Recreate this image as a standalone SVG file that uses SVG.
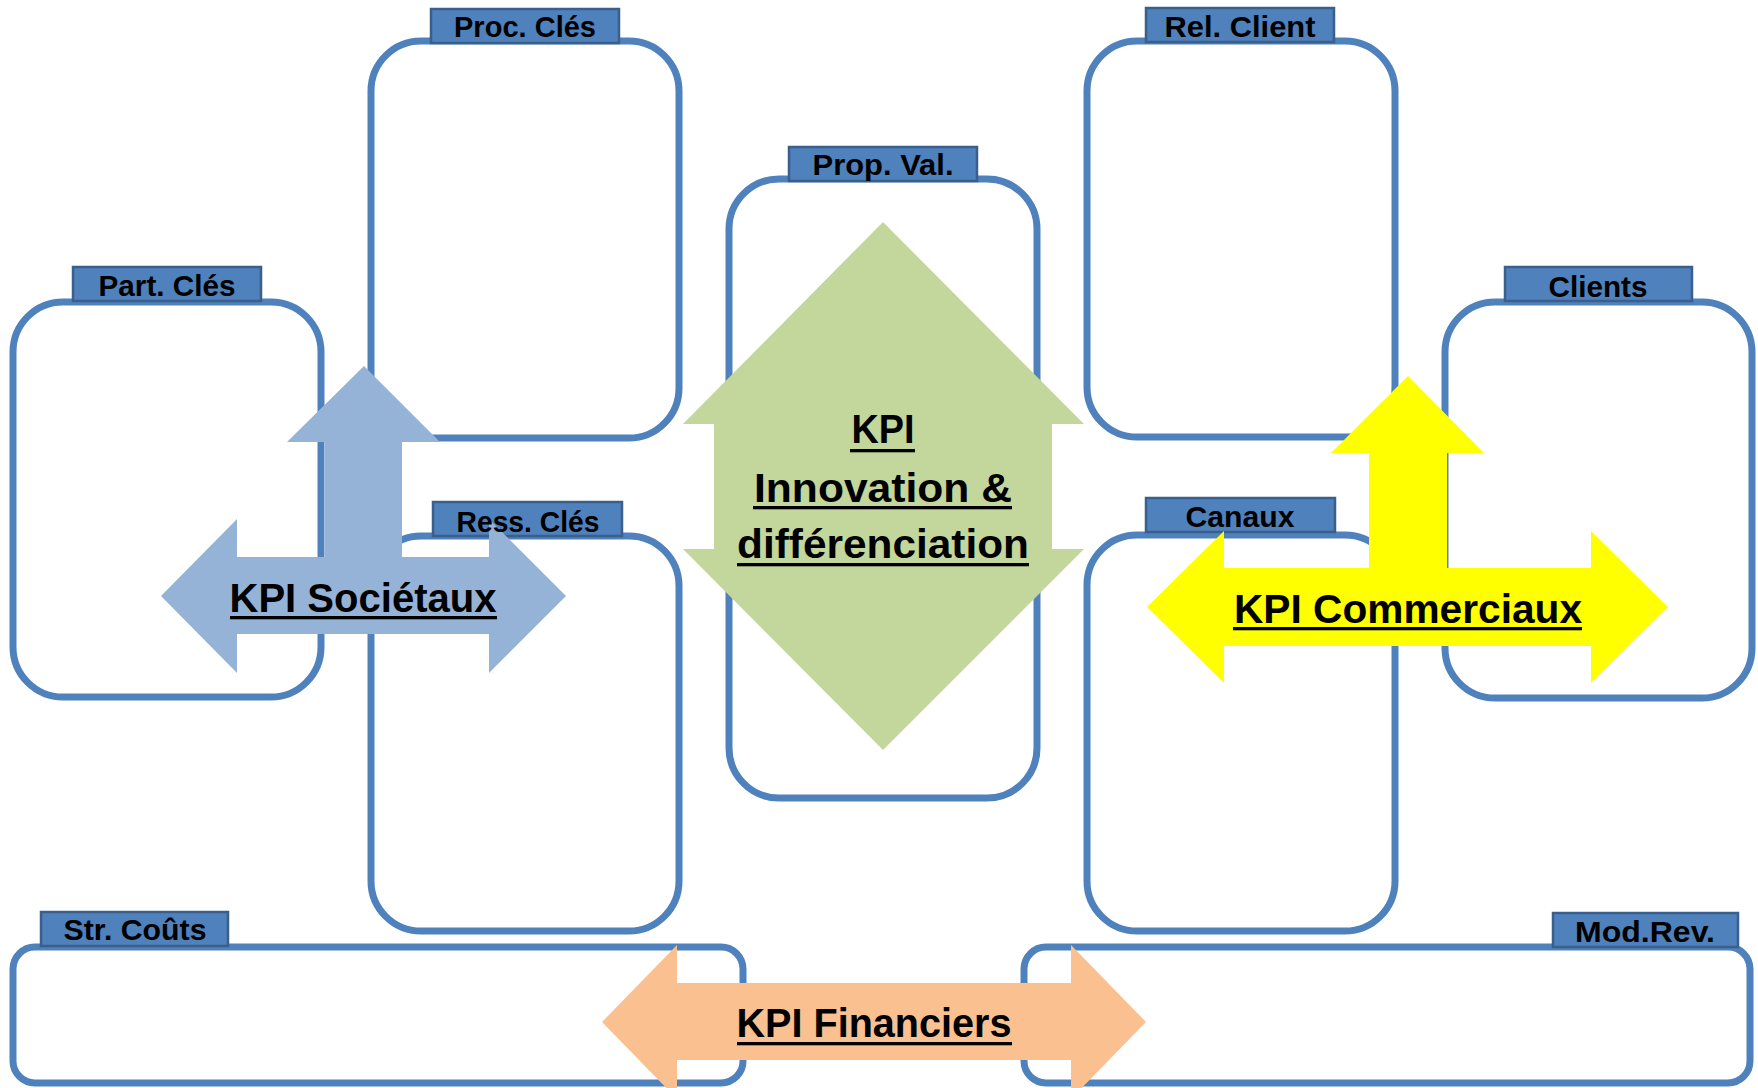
<svg xmlns="http://www.w3.org/2000/svg" width="1758" height="1088" viewBox="0 0 1758 1088">
  <style>
    .box { fill: #FFFFFF; stroke: #4F81BD; stroke-width: 7; }
    .tab { fill: #4F81BD; stroke: #3A5F8B; stroke-width: 2.5; }
    .tabtxt { font-family: "Liberation Sans", Arial, sans-serif; font-weight: bold; font-size: 30px; fill: #000000; text-anchor: middle; }
    .kpi { font-family: "Liberation Sans", Arial, sans-serif; font-weight: bold; font-size: 41px; fill: #000000; text-anchor: middle; }
    .ul { fill: #000000; }
    .a-soc { fill: #95B3D7; }
    .a-inn { fill: #C3D69B; }
    .a-com { fill: #FFFF00; }
    .a-fin { fill: #FAC090; }
  </style>

  <rect width="1758" height="1088" fill="#FFFFFF"/>

  <!-- canvas blocks: frame + title tab -->
  <g id="part-cles">
    <rect class="box" x="13" y="302" width="308" height="395" rx="50"/>
    <rect class="tab" x="73" y="267" width="188" height="34"/>
  </g>
  <g id="proc-cles">
    <rect class="box" x="371" y="41" width="308" height="397" rx="50"/>
    <rect class="tab" x="431" y="9" width="188" height="34"/>
  </g>
  <g id="ress-cles">
    <rect class="box" x="371" y="536" width="308" height="395" rx="50"/>
    <rect class="tab" x="433" y="502" width="189" height="34"/>
  </g>
  <g id="prop-val">
    <rect class="box" x="729" y="179" width="308" height="619" rx="50"/>
    <rect class="tab" x="789" y="147" width="188" height="34"/>
  </g>
  <g id="rel-client">
    <rect class="box" x="1087" y="41" width="308" height="396" rx="50"/>
    <rect class="tab" x="1146" y="8" width="188" height="34"/>
  </g>
  <g id="canaux">
    <rect class="box" x="1087" y="535" width="308" height="396" rx="50"/>
    <rect class="tab" x="1146" y="498" width="189" height="34"/>
  </g>
  <g id="clients">
    <rect class="box" x="1445" y="302" width="307" height="396" rx="50"/>
    <rect class="tab" x="1505" y="267" width="187" height="34"/>
  </g>
  <g id="str-couts">
    <rect class="box" x="13" y="947" width="730" height="136" rx="22"/>
    <rect class="tab" x="41" y="912" width="187" height="34"/>
  </g>
  <g id="mod-rev">
    <rect class="box" x="1024" y="947" width="726" height="136" rx="22"/>
    <rect class="tab" x="1553" y="913" width="185" height="34"/>
  </g>

  <!-- KPI arrows -->
  <g id="connectors">
    <polygon id="arrow-societaux" class="a-soc" points="161,596 237,519 237,557 325,557 325,442 287,442 364,366 440,442 402,442 402,557 489,557 489,519 566,596 489,673 489,634 237,634 237,673"/>
    <polygon id="arrow-innovation" class="a-inn" points="883,222 1084,424 1052,424 1052,549 1084,549 883,750 683,549 714,549 714,424 683,424"/>
    <polygon id="arrow-commerciaux" class="a-com" points="1147,607 1224,531 1224,568 1369,568 1369,453 1331,453 1408,376 1484,453 1447,453 1447,568 1591,568 1591,531 1668,607 1591,683 1591,646 1224,646 1224,683"/>
    <polygon id="arrow-financiers" class="a-fin" points="602,1022 677,945 677,983 1071,983 1071,945 1146,1022 1071,1099 1071,1060 677,1060 677,1099"/>
  </g>

  <!-- tab titles -->
  <g id="tab-titles">
    <text class="tabtxt" x="167" y="296" textLength="137" lengthAdjust="spacingAndGlyphs">Part. Clés</text>
    <text class="tabtxt" x="525" y="37" textLength="142" lengthAdjust="spacingAndGlyphs">Proc. Clés</text>
    <text class="tabtxt" x="528" y="532" textLength="143" lengthAdjust="spacingAndGlyphs">Ress. Clés</text>
    <text class="tabtxt" x="883" y="175" textLength="141" lengthAdjust="spacingAndGlyphs">Prop. Val.</text>
    <text class="tabtxt" x="1240" y="37" textLength="151" lengthAdjust="spacingAndGlyphs">Rel. Client</text>
    <text class="tabtxt" x="1240" y="527" textLength="109" lengthAdjust="spacingAndGlyphs">Canaux</text>
    <text class="tabtxt" x="1598" y="297" textLength="99" lengthAdjust="spacingAndGlyphs">Clients</text>
    <text class="tabtxt" x="135" y="940" textLength="143" lengthAdjust="spacingAndGlyphs">Str. Coûts</text>
    <text class="tabtxt" x="1645" y="942" textLength="140" lengthAdjust="spacingAndGlyphs">Mod.Rev.</text>
  </g>

  <!-- KPI labels with underlines -->
  <g id="kpi-labels">
    <text class="kpi" x="363" y="612" textLength="267" lengthAdjust="spacingAndGlyphs">KPI Sociétaux</text>
    <rect class="ul" x="230" y="616" width="267" height="3.3"/>

    <text class="kpi" x="883" y="443" textLength="63" lengthAdjust="spacingAndGlyphs">KPI</text>
    <rect class="ul" x="850" y="449" width="65" height="3.3"/>
    <text class="kpi" x="883" y="502" textLength="258" lengthAdjust="spacingAndGlyphs">Innovation &amp;</text>
    <rect class="ul" x="753" y="506" width="259" height="3.3"/>
    <text class="kpi" x="883" y="558" textLength="292" lengthAdjust="spacingAndGlyphs">différenciation</text>
    <rect class="ul" x="737" y="563" width="292" height="3.3"/>

    <text class="kpi" x="1408" y="623" textLength="348" lengthAdjust="spacingAndGlyphs">KPI Commerciaux</text>
    <rect class="ul" x="1233" y="627" width="349" height="3.3"/>

    <text class="kpi" x="874" y="1037" textLength="275" lengthAdjust="spacingAndGlyphs">KPI Financiers</text>
    <rect class="ul" x="737" y="1042" width="275" height="3.3"/>
  </g>
</svg>
